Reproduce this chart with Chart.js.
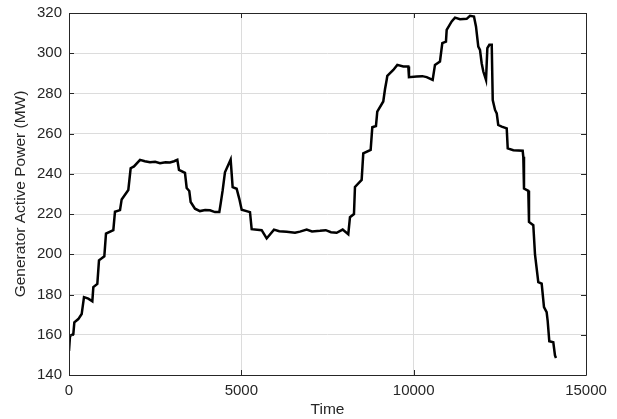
<!DOCTYPE html>
<html>
<head>
<meta charset="utf-8">
<script src="https://cdn.jsdelivr.net/npm/chart.js@4"></script>
<style>
  body { margin: 0; background: #fff; }
</style>
</head>
<body>
<canvas id="myChart" width="617" height="419"></canvas>
<script>
// time samples and generator output
var time = [
  0, 30, 125, 155, 270, 368, 435, 560, 677, 706, 822, 870, 1025, 1073, 1286, 1334,
  1480, 1528, 1721, 1789, 1886, 2060, 2200, 2350, 2500, 2640, 2800, 2930, 3050, 3143,
  3191, 3365, 3414, 3490, 3530, 3655, 3800, 3950, 4090, 4235, 4361, 4400, 4458, 4525,
  4690, 4748, 4864, 4941, 5010, 5251, 5300, 5590, 5735, 5947, 6100, 6315, 6556, 6700,
  6896, 7050, 7282, 7450, 7600, 7766, 7940, 8103, 8152, 8268, 8297, 8491, 8538, 8752,
  8800, 8906, 8944, 9118, 9168, 9216, 9235, 9409, 9525, 9699, 9844, 9864, 10087, 10250,
  10377, 10551, 10618, 10763, 10831, 10937, 10958, 11103, 11199, 11344, 11538, 11634,
  11750, 11808, 11875, 11924, 11973, 12021, 12099, 12138, 12196, 12265, 12294, 12361,
  12410, 12454, 12555, 12700, 12729, 12893, 13163, 13181, 13201, 13326, 13346, 13471,
  13520, 13616, 13714, 13781, 13858, 13887, 13935, 14051, 14100, 14129
];
var power = [
  152, 159.5, 160.3, 166.2, 167.8, 170.3, 178.7, 178, 176.7, 183.7, 185.3, 197, 199, 210.3, 212, 221.2,
  222, 227.3, 232, 242.8, 243.7, 247, 246.3, 245.8, 246, 245.3, 245.8, 245.7, 246.3, 247,
  242, 240.5, 233, 231.5, 226, 222.7, 221.5, 222, 221.9, 221, 221, 225.2, 231.8, 240.8,
  247.1, 233.4, 232.6, 227.6, 222.2, 221, 212.5, 212, 207.9, 212.3, 211.5, 211.2, 210.7, 211.3,
  212.3, 211.4, 211.7, 212, 211, 210.7, 212.3, 210, 218.5, 220, 233.5, 237, 250.2, 251.9,
  263.2, 263.8, 271, 276, 282.1, 286.7, 288.7, 291.7, 294.2, 293.4, 293.4, 288.1, 288.4, 288.6,
  288.1, 286.7, 294.2, 295.9, 305, 305.8, 311.6, 315.8, 317.7, 316.9, 317.1, 318.6,
  318.2, 313.3, 303.3, 301.7, 295, 290.9, 286.7, 302.5, 304.2, 304.2, 276.7, 271.8,
  270.1, 264.3, 263.5, 262.6, 252.7, 251.8, 251.5, 248.5, 232.7, 231.6, 216.1, 214.5,
  200, 186.2, 185.4, 173.8, 171.3, 167.1, 156.8, 156.3, 149.7, 148.5
];
var xTicks = [0, 5000, 10000, 15000];
var yTicks = [140, 160, 180, 200, 220, 240, 260, 280, 300, 320];

var points = time.map(function (t, i) {
  return { x: t, y: power[i] };
});

// matlab style box with inward tick marks
var boxPlugin = {
  id: "box",
  afterDraw: function (c) {
    var a = c.chartArea;
    var ctx = c.ctx;
    var xs = c.scales.x;
    var ys = c.scales.y;
    ctx.save();
    ctx.strokeStyle = "#262626";
    ctx.lineWidth = 1;
    ctx.beginPath();
    ctx.rect(Math.round(a.left) + 0.5, Math.round(a.top) + 0.5,
      Math.round(a.right - a.left), Math.round(a.bottom - a.top));
    yTicks.forEach(function (v) {
      var p = Math.round(ys.getPixelForValue(v)) + 0.5;
      ctx.moveTo(a.left, p); ctx.lineTo(a.left + 5, p);
      ctx.moveTo(a.right - 5, p); ctx.lineTo(a.right, p);
    });
    xTicks.forEach(function (v) {
      var p = Math.round(xs.getPixelForValue(v)) + 0.5;
      ctx.moveTo(p, a.bottom); ctx.lineTo(p, a.bottom - 5);
      ctx.moveTo(p, a.top); ctx.lineTo(p, a.top + 5);
    });
    ctx.stroke();
    ctx.restore();
  }
};

var chart = document.getElementById("myChart").getContext("2d");
var myChart = new Chart(chart, {
  type: "line",
  data: {
    datasets: [
      {
        data: points,
        borderColor: "#000",
        borderWidth: 2.5,
        pointRadius: 0,
        tension: 0,
        fill: false,
      },
    ],
  },
  options: {
    responsive: false,
    animation: false,
    layout: { padding: { left: 0, top: 13, right: 31, bottom: 0 } },
    plugins: { legend: { display: false }, tooltip: { enabled: false } },
    scales: {
      x: {
        type: "linear",
        min: 0,
        max: 15000,
        afterFit: function (s) {
          s.height = 44;
          s.paddingLeft = 0;
          s.paddingRight = 0;
        },
        afterBuildTicks: function (s) { s.ticks = xTicks.map(function (v) { return { value: v }; }); },
        border: { display: false },
        grid: { color: "#dcdcdc", drawTicks: false },
        ticks: {
          padding: 7,
          color: "#262626",
          font: { family: "Liberation Sans", size: 15 },
          callback: function (v) { return v; },
        },
        title: {
          display: true,
          text: "Time",
          color: "#262626",
          padding: 0,
          font: { family: "Liberation Sans", size: 15.5 },
        },
      },
      y: {
        min: 140,
        max: 320,
        afterFit: function (s) {
          s.width = 69;
          s.paddingTop = 0;
          s.paddingBottom = 0;
        },
        afterBuildTicks: function (s) { s.ticks = yTicks.map(function (v) { return { value: v }; }); },
        border: { display: false },
        grid: { color: "#dcdcdc", drawTicks: false },
        ticks: {
          padding: 7,
          color: "#262626",
          font: { family: "Liberation Sans", size: 15 },
        },
        title: {
          display: true,
          text: "Generator Active Power (MW)",
          color: "#262626",
          padding: { top: 11 },
          font: { family: "Liberation Sans", size: 15.5 },
        },
      },
    },
  },
  plugins: [boxPlugin],
});
</script>
</body>
</html>
